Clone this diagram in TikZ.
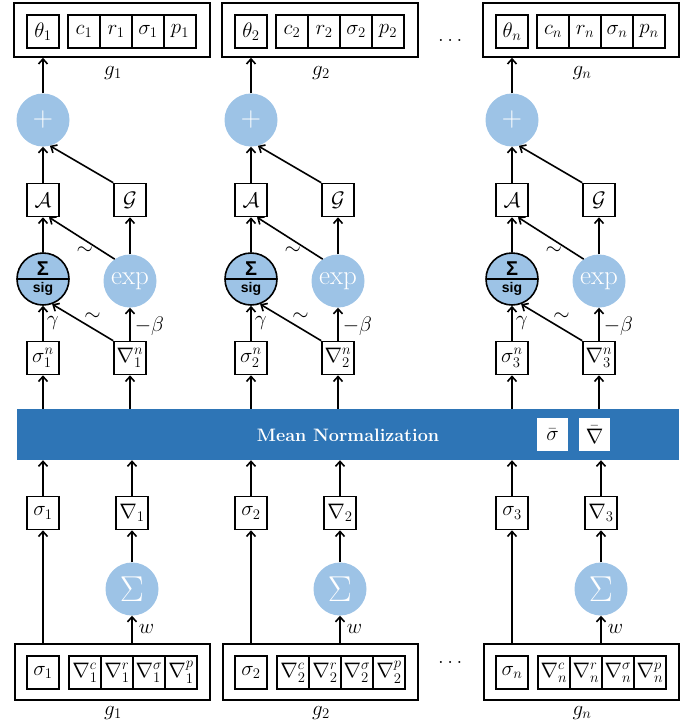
\RequirePackage{fix-cm}
\documentclass[tikz,border=0pt]{standalone}
\usepackage{amsmath}
\usepackage{fontspec}
\newfontfamily\arialfont{Liberation Sans}
\usetikzlibrary{arrows.meta, shapes.multipart, positioning, calc}
\definecolor{lightblue}{RGB}{157,195,230}
\definecolor{barblue}{RGB}{46,117,182}

\tikzset{
	cell/.style={draw, line width=1.6pt, minimum width=32pt, minimum height=33pt, inner sep=0pt},
	group/.style={draw, line width=1.6pt, inner sep=0pt},
	op/.style={circle, fill=lightblue, minimum size=53pt, inner sep=0pt, text=white},
	flow/.style={line width=1.6pt, -{Straight Barb[length=5pt,width=9pt]}},
}

\begin{document}
\begin{tikzpicture}[x=1pt, y=-1pt, font=\fontsize{21}{24}\selectfont]
	\useasboundingbox (0,0) rectangle (697,725);
	
	\node[fill=barblue, minimum width=662pt, minimum height=51pt, inner sep=0pt] (bar) at (348,434.5) {};
	\node[text=white, font=\fontsize{18}{20}\selectfont\bfseries] (meannorm) at (348,435) {Mean Normalization};
	\node[fill=white, minimum width=31pt, minimum height=33pt, inner sep=0pt] (sbar) at (552.5,434.5) {$\bar{\sigma}$};
	\node[fill=white, minimum width=31pt, minimum height=33pt, inner sep=0pt] (gbar) at (594.5,434.5) {$\bar{\nabla}$};
	
	\node (dotstop) at (452,40) {$\dots$};
	\node (dotsbot) at (452,662) {$\dots$};
	
	\foreach \dx/\k/\j in {0/1/1, 208/2/2, 469/n/3} {
	\begin{scope}[shift={(\dx,0)}]
		% output group
		\node[group, minimum width=196pt, minimum height=54pt] (out\j) at (112,30) {};
		\node[cell] (theta\j) at (43,31.5) {$\theta_\k$};
		\node[cell] (c\j) at (84,31.5) {$c_\k$};
		\node[cell] (r\j) at (116,31.5) {$r_\k$};
		\node[cell] (so\j) at (148,31.5) {$\sigma_\k$};
		\node[cell] (p\j) at (180,31.5) {$p_\k$};
		\node (gtop\j) at (113,73) {$g_\k$};
		
		\node[op, font=\fontsize{28}{28}\selectfont] (plus\j) at (43,120) {$+$};
		\node[cell] (A\j) at (43,200) {$\mathcal{A}$};
		\node[cell] (G\j) at (130,200) {$\mathcal{G}$};
		\node[circle split, draw, line width=1.6pt, fill=lightblue, minimum size=52pt, inner sep=3pt] (sig\j) at (43,279) {\arialfont\bfseries\fontsize{20}{20}\selectfont Σ\nodepart{lower}\arialfont\bfseries\fontsize{14}{14}\selectfont sig};
		\node[op, font=\fontsize{27}{27}\selectfont] (exp\j) at (130,281) {exp};
		\node[cell] (sn\j) at (43,358) {$\sigma_\j^n$};
		\node[cell] (gn\j) at (130,358) {$\nabla_\j^n$};
		
		% input group
		\node[cell] (s\j) at (43,513) {$\sigma_\j$};
		\node[cell] (g\j) at (132,513) {$\nabla_\j$};
		\node[op, font=\fontsize{36}{36}\selectfont] (sum\j) at (132,589) {$\Sigma$};
		\node[group, minimum width=195pt, minimum height=56pt] (in\j) at (112.5,672) {};
		\node[cell] (si\j) at (43,672.5) {$\sigma_\k$};
		\node[cell] (dc\j) at (85,672.5) {$\nabla_\k^c$};
		\node[cell] (dr\j) at (117,672.5) {$\nabla_\k^r$};
		\node[cell] (ds\j) at (149,672.5) {$\nabla_\k^\sigma$};
		\node[cell] (dp\j) at (181,672.5) {$\nabla_\k^p$};
		\node (gbot\j) at (113,713) {$g_\k$};
		
		\draw[flow] (plus\j) -- (plus\j |- out\j.south);
		\draw[flow] (A\j) -- (plus\j);
		\draw[flow] (G\j.north west) -- (plus\j.-75);
		\draw[flow] (sig\j) -- (A\j);
		\draw[flow] (exp\j.125) -- node[midway, below=4pt, xshift=3pt] {$\sim$} ([xshift=6pt]A\j.south);
		\draw[flow] (exp\j) -- (G\j);
		\draw[flow] (sn\j) -- node[right, inner sep=3pt] {$\gamma$} (sig\j);
		\draw[flow] (gn\j.north west) -- node[midway, above right, inner sep=1pt] {$\sim$} (sig\j.-70);
		\draw[flow] (gn\j) -- node[right, inner sep=4pt, yshift=-2pt] {$-\beta$} (exp\j);
		\draw[flow] (sn\j |- bar.north) -- (sn\j);
		\draw[flow] (gn\j |- bar.north) -- (gn\j);
		\draw[flow] (s\j) -- (s\j |- bar.south);
		\draw[flow] (g\j) -- (g\j |- bar.south);
		\draw[flow] (sum\j) -- (g\j);
		\draw[flow] (si\j |- in\j.north) -- (s\j);
		\draw[flow] (sum\j |- in\j.north) -- node[right, inner sep=6pt] {$w$} (sum\j);
	\end{scope}
	}
\end{tikzpicture}
\end{document}
